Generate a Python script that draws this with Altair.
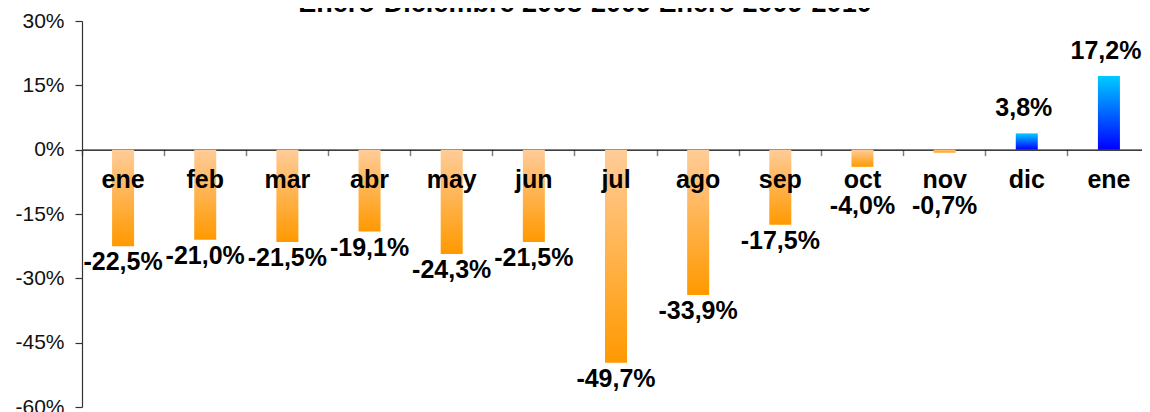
import altair as alt
import pandas as pd

meses = ["ene", "feb", "mar", "abr", "may", "jun", "jul", "ago", "sep", "oct", "nov", "dic", "ene"]
valores = [-22.5, -21.0, -21.5, -19.1, -24.3, -21.5, -49.7, -33.9, -17.5, -4.0, -0.7, 3.8, 17.2]
etiquetas = ["-22,5%", "-21,0%", "-21,5%", "-19,1%", "-24,3%", "-21,5%", "-49,7%",
             "-33,9%", "-17,5%", "-4,0%", "-0,7%", "3,8%", "17,2%"]
y_ticks = [-60, -45, -30, -15, 0, 15, 30]
titulo = "Enero-Diciembre 2008-2009 Enero 2009-2010"

df = pd.DataFrame({"i": list(range(len(meses))), "mes": meses, "v": valores, "txt": etiquetas})

W, H = 1068, 386
FONT = "Liberation Sans"
zero_px = H * 30 / 90

xscale = alt.Scale(paddingInner=0, paddingOuter=0)
x_ax = alt.Axis(title=None, labels=False, ticks=True, tickSize=6, tickColor="#808080",
                tickWidth=1.5, bandPosition=0, domain=True, domainColor="#000000",
                domainWidth=1.2, grid=False, orient="bottom", offset=-(H - zero_px))
yscale = alt.Scale(domain=[-60, 30], nice=False, zero=False)
y_ax = alt.Axis(values=y_ticks, labelExpr="datum.value + '%'", title=None, grid=False,
                tickSize=7, labelPadding=11, labelFontSize=21, labelFont=FONT,
                labelColor="#111111", domainColor="#333333", tickColor="#333333",
                domainWidth=1.2, tickWidth=1.2)


def X():
    return alt.X("i:O", scale=xscale, axis=x_ax)


def Y(field):
    return alt.Y(field, scale=yscale, axis=y_ax)


base = alt.Chart(df)

grad_neg = alt.LinearGradient(gradient="linear", x1=0, y1=0, x2=0, y2=1,
                              stops=[alt.GradientStop(color="#FFCC99", offset=0),
                                     alt.GradientStop(color="#FF9900", offset=1)])
grad_pos = alt.LinearGradient(gradient="linear", x1=0, y1=0, x2=0, y2=1,
                              stops=[alt.GradientStop(color="#00CCFF", offset=0),
                                     alt.GradientStop(color="#0000FF", offset=1)])

bars_neg = base.transform_filter("datum.v < 0").transform_calculate(z="0").mark_bar(
    size=22, color=grad_neg).encode(x=X(), y=Y("v:Q"), y2="z:Q")
bars_pos = base.transform_filter("datum.v >= 0").transform_calculate(z="0").mark_bar(
    size=22, color=grad_pos).encode(x=X(), y=Y("v:Q"), y2="z:Q")

cat_labels = base.transform_calculate(z="0").mark_text(
    font=FONT, fontSize=25, fontWeight="bold", color="#000000", baseline="middle", dy=30
).encode(x=X(), y=Y("z:Q"), text="mes:N")

val_neg = base.transform_filter("datum.v < 0").transform_calculate(
    ly="min(datum.v, -9.5)").mark_text(
    font=FONT, fontSize=25, fontWeight="bold", color="#000000", baseline="middle", dy=16
).encode(x=X(), y=Y("ly:Q"), text="txt:N")

val_pos = base.transform_filter("datum.v >= 0").mark_text(
    font=FONT, fontSize=25, fontWeight="bold", color="#000000", baseline="middle",
    dy=-25, dx=-3
).encode(x=X(), y=Y("v:Q"), text="txt:N")

title = alt.Chart(pd.DataFrame({"t": [titulo]})).mark_text(
    font=FONT, fontSize=27, fontWeight="bold", color="#000000", baseline="alphabetic",
    align="center"
).encode(x=alt.value(W / 2 - 31), y=alt.value(-9), text="t:N")

chart = alt.layer(bars_neg, bars_pos, cat_labels, val_neg, val_pos, title).properties(
    width=W, height=H,
    autosize=alt.AutoSizeParams(type="none"),
    padding={"left": 74, "top": 13, "right": -8, "bottom": 6},
    background="white",
).configure_view(stroke=None)

chart.save("out.html", embed_options={"renderer": "svg", "actions": False})
